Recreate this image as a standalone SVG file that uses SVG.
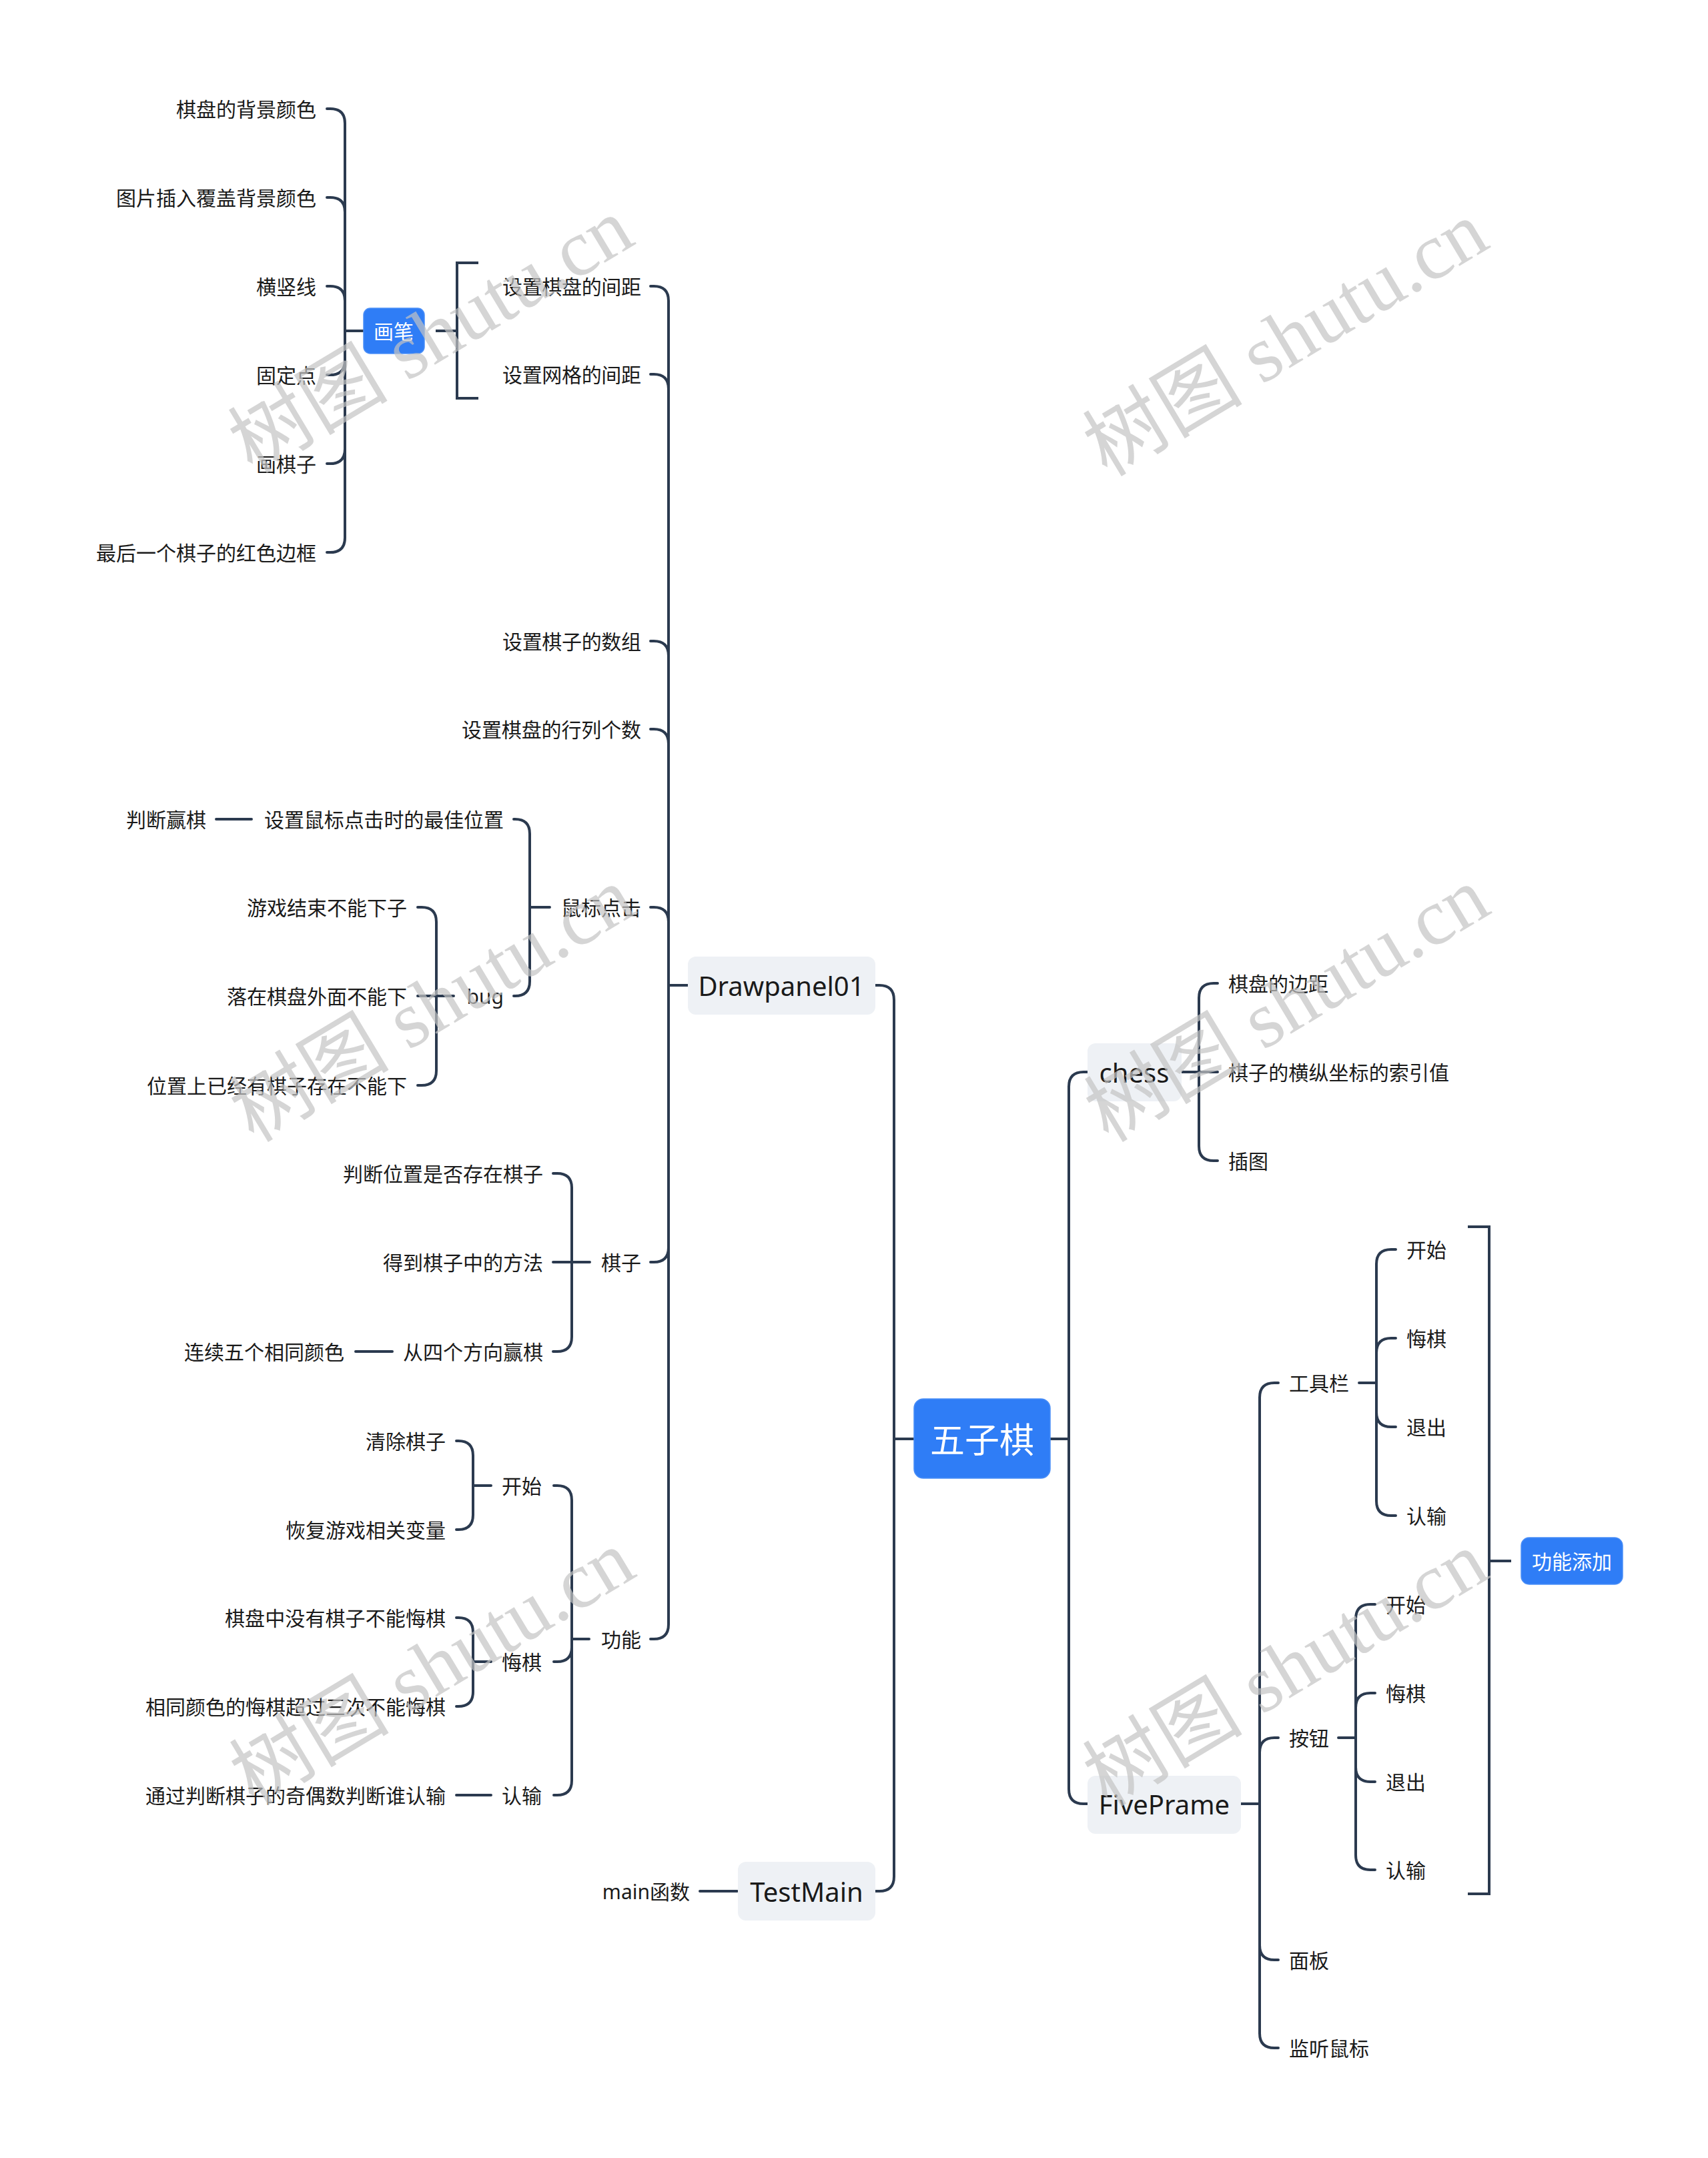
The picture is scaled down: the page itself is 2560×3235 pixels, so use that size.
<svg xmlns="http://www.w3.org/2000/svg" width="2560" height="3235" viewBox="0 0 2560 3235">
<style>
.c{fill:none;stroke:#2b3a4f;stroke-width:4;stroke-linecap:round;stroke-linejoin:round}
.b{fill:none;stroke:#2b3a4f;stroke-width:4;stroke-linecap:butt;stroke-linejoin:miter}
.t{font-family:"Noto Sans","Noto Sans CJK SC",sans-serif;font-size:30px;fill:#1a1a1a;dominant-baseline:central}
.e{text-anchor:end}
.m{text-anchor:middle}
.L{font-size:40px}
.w{fill:#ffffff}
.box{fill:#eef1f5}
.blue{fill:#2f7df6;stroke:#4a8ef7;stroke-width:1.5}
.wm{font-family:"Liberation Serif","Noto Sans CJK SC",serif;font-size:120px;fill:#c4c4c4;opacity:.7;text-anchor:middle;dominant-baseline:central}
</style>
<rect width="2560" height="3235" fill="#ffffff"/>
<g id="connectors">
<path class="c" d="M545,496H517 M517,496V185Q517,163 495,163H490 M517,496V318Q517,296 495,296H490 M517,496V451Q517,429 495,429H490 M517,496V540Q517,562 495,562H490 M517,496V673Q517,695 495,695H490 M517,496V806Q517,828 495,828H490"/>
<path class="b" d="M717,394H685V597H717 M653,496H685"/>
<path class="c" d="M1031,1477H1002 M1002,1477V451Q1002,429 980,429H975 M1002,1477V583Q1002,561 980,561H975 M1002,1477V983Q1002,961 980,961H975 M1002,1477V1115Q1002,1093 980,1093H975 M1002,1477V1382Q1002,1360 980,1360H975 M1002,1477V1870Q1002,1892 980,1892H975 M1002,1477V2435Q1002,2457 980,2457H975"/>
<path class="c" d="M824,1360H794 M794,1360V1250Q794,1228 772,1228H770 M794,1360V1471Q794,1493 772,1493H770 M377,1228H324"/>
<path class="c" d="M680,1493H654 M654,1493V1382Q654,1360 632,1360H626 M654,1493H626 M654,1493V1605Q654,1627 632,1627H626"/>
<path class="c" d="M884,1892H857 M857,1892V1781Q857,1759 835,1759H829 M857,1892H829 M857,1892V2004Q857,2026 835,2026H829 M588,2026H533"/>
<path class="c" d="M883,2457H857 M857,2457V2249Q857,2227 835,2227H830 M857,2457V2469Q857,2491 835,2491H830 M857,2457V2669Q857,2691 835,2691H830"/>
<path class="c" d="M736,2227H709 M709,2227V2182Q709,2160 687,2160H684 M709,2227V2271Q709,2293 687,2293H684"/>
<path class="c" d="M736,2491H709 M709,2491V2447Q709,2425 687,2425H684 M709,2491V2536Q709,2558 687,2558H684 M736,2691H684"/>
<path class="c" d="M1370,2157H1340 M1340,2157V1499Q1340,1477 1318,1477H1312 M1340,2157V2813Q1340,2835 1318,2835H1312 M1105,2835H1049"/>
<path class="c" d="M1574,2157H1602 M1602,2157V1629Q1602,1607 1624,1607H1630 M1602,2157V2682Q1602,2704 1624,2704H1630"/>
<path class="c" d="M1771,1607H1797 M1797,1607V1496Q1797,1474 1819,1474H1825 M1797,1607H1825 M1797,1607V1718Q1797,1740 1819,1740H1825"/>
<path class="c" d="M1860,2704H1888 M1888,2704V2095Q1888,2073 1910,2073H1916 M1888,2704V2627Q1888,2605 1910,2605H1916 M1888,2704V2916Q1888,2938 1910,2938H1916 M1888,2704V3048Q1888,3070 1910,3070H1916"/>
<path class="c" d="M2037,2073H2063 M2063,2073V1895Q2063,1873 2085,1873H2092 M2063,2073V2028Q2063,2006 2085,2006H2092 M2063,2073V2117Q2063,2139 2085,2139H2092 M2063,2073V2250Q2063,2272 2085,2272H2092"/>
<path class="c" d="M2006,2605H2032 M2032,2605V2427Q2032,2405 2054,2405H2061 M2032,2605V2560Q2032,2538 2054,2538H2061 M2032,2605V2649Q2032,2671 2054,2671H2061 M2032,2605V2781Q2032,2803 2054,2803H2061"/>
<path class="b" d="M2200,1839H2232V2839H2200 M2232,2340H2265"/>
</g>
<g id="root"><rect class="blue" x="1370" y="2097" width="204" height="119" rx="14"/><text class="t m w" x="1472" y="2157" style="font-size:52px">五子棋</text></g>
<g id="drawpanel01"><rect class="box" x="1031" y="1434" width="281" height="87" rx="12"/><text class="t m L" x="1171" y="1477">Drawpanel01</text></g>
<g id="testmain"><rect class="box" x="1106" y="2791" width="206" height="88" rx="12"/><text class="t m L" x="1209" y="2835">TestMain</text></g>
<g id="chess"><rect class="box" x="1630" y="1564" width="141" height="87" rx="12"/><text class="t m L" x="1700" y="1607">chess</text></g>
<g id="fiveprame"><rect class="box" x="1630" y="2662" width="230" height="87" rx="12"/><text class="t m L" x="1745" y="2704">FivePrame</text></g>
<g id="huabi"><rect class="blue" x="545" y="462" width="91" height="68" rx="10"/><text class="t m w" x="590" y="496">画笔</text></g>
<g id="gongnengtianjia"><rect class="blue" x="2280" y="2305" width="152" height="70" rx="12"/><text class="t m w" x="2356" y="2340">功能添加</text></g>
<g id="n-hb1"><text class="t e" x="474" y="163">棋盘的背景颜色</text></g>
<g id="n-hb2"><text class="t e" x="474" y="296">图片插入覆盖背景颜色</text></g>
<g id="n-hb3"><text class="t e" x="474" y="429">横竖线</text></g>
<g id="n-hb4"><text class="t e" x="474" y="562">固定点</text></g>
<g id="n-hb5"><text class="t e" x="474" y="695">画棋子</text></g>
<g id="n-hb6"><text class="t e" x="474" y="828">最后一个棋子的红色边框</text></g>
<g id="n-d1"><text class="t" x="753" y="429" textLength="208" lengthAdjust="spacing">设置棋盘的间距</text></g>
<g id="n-d2"><text class="t" x="753" y="561" textLength="208" lengthAdjust="spacing">设置网格的间距</text></g>
<g id="n-d3"><text class="t" x="753" y="961" textLength="208" lengthAdjust="spacing">设置棋子的数组</text></g>
<g id="n-d4"><text class="t" x="692" y="1093" textLength="269" lengthAdjust="spacing">设置棋盘的行列个数</text></g>
<g id="n-d5"><text class="t e" x="961" y="1360">鼠标点击</text></g>
<g id="n-d6"><text class="t e" x="961" y="1892">棋子</text></g>
<g id="n-d7"><text class="t e" x="961" y="2457">功能</text></g>
<g id="n-m1"><text class="t" x="396" y="1228" textLength="359" lengthAdjust="spacing">设置鼠标点击时的最佳位置</text></g>
<g id="n-m1a"><text class="t e" x="309" y="1228">判断赢棋</text></g>
<g id="n-bug"><text class="t e" x="755" y="1493">bug</text></g>
<g id="n-b1"><text class="t e" x="610" y="1360">游戏结束不能下子</text></g>
<g id="n-b2"><text class="t e" x="610" y="1493">落在棋盘外面不能下</text></g>
<g id="n-b3"><text class="t e" x="610" y="1627">位置上已经有棋子存在不能下</text></g>
<g id="n-q1"><text class="t e" x="814" y="1759">判断位置是否存在棋子</text></g>
<g id="n-q2"><text class="t e" x="814" y="1892">得到棋子中的方法</text></g>
<g id="n-q3"><text class="t e" x="814" y="2026">从四个方向赢棋</text></g>
<g id="n-q3a"><text class="t e" x="516" y="2026">连续五个相同颜色</text></g>
<g id="n-f1"><text class="t e" x="812" y="2227">开始</text></g>
<g id="n-f2"><text class="t e" x="812" y="2491">悔棋</text></g>
<g id="n-f3"><text class="t e" x="812" y="2691">认输</text></g>
<g id="n-f1a"><text class="t e" x="668" y="2160">清除棋子</text></g>
<g id="n-f1b"><text class="t e" x="668" y="2293">恢复游戏相关变量</text></g>
<g id="n-f2a"><text class="t" x="337" y="2425" textLength="331" lengthAdjust="spacing">棋盘中没有棋子不能悔棋</text></g>
<g id="n-f2b"><text class="t e" x="668" y="2558">相同颜色的悔棋超过三次不能悔棋</text></g>
<g id="n-f3a"><text class="t e" x="668" y="2691">通过判断棋子的奇偶数判断谁认输</text></g>
<g id="n-main"><text class="t e" x="1034" y="2835">main函数</text></g>
<g id="n-c1"><text class="t" x="1841" y="1474">棋盘的边距</text></g>
<g id="n-c2"><text class="t" x="1841" y="1607" textLength="331" lengthAdjust="spacing">棋子的横纵坐标的索引值</text></g>
<g id="n-c3"><text class="t" x="1841" y="1740">插图</text></g>
<g id="n-p1"><text class="t" x="1932" y="2073">工具栏</text></g>
<g id="n-p2"><text class="t" x="1932" y="2605">按钮</text></g>
<g id="n-p3"><text class="t" x="1932" y="2938">面板</text></g>
<g id="n-p4"><text class="t" x="1932" y="3070">监听鼠标</text></g>
<g id="n-g1"><text class="t" x="2108" y="1873">开始</text></g>
<g id="n-g2"><text class="t" x="2108" y="2006">悔棋</text></g>
<g id="n-g3"><text class="t" x="2108" y="2139">退出</text></g>
<g id="n-g4"><text class="t" x="2108" y="2272">认输</text></g>
<g id="n-k1"><text class="t" x="2077" y="2405">开始</text></g>
<g id="n-k2"><text class="t" x="2077" y="2538">悔棋</text></g>
<g id="n-k3"><text class="t" x="2077" y="2671">退出</text></g>
<g id="n-k4"><text class="t" x="2077" y="2803">认输</text></g>
<g id="watermarks">
<text class="wm" transform="translate(646,503) rotate(-31)">树图 shutu.cn</text>
<text class="wm" transform="translate(1927,508) rotate(-31)">树图 shutu.cn</text>
<text class="wm" transform="translate(648,1506) rotate(-31)">树图 shutu.cn</text>
<text class="wm" transform="translate(1929,1506) rotate(-31)">树图 shutu.cn</text>
<text class="wm" transform="translate(648,2500) rotate(-31)">树图 shutu.cn</text>
<text class="wm" transform="translate(1927,2502) rotate(-31)">树图 shutu.cn</text>
</g>
</svg>
